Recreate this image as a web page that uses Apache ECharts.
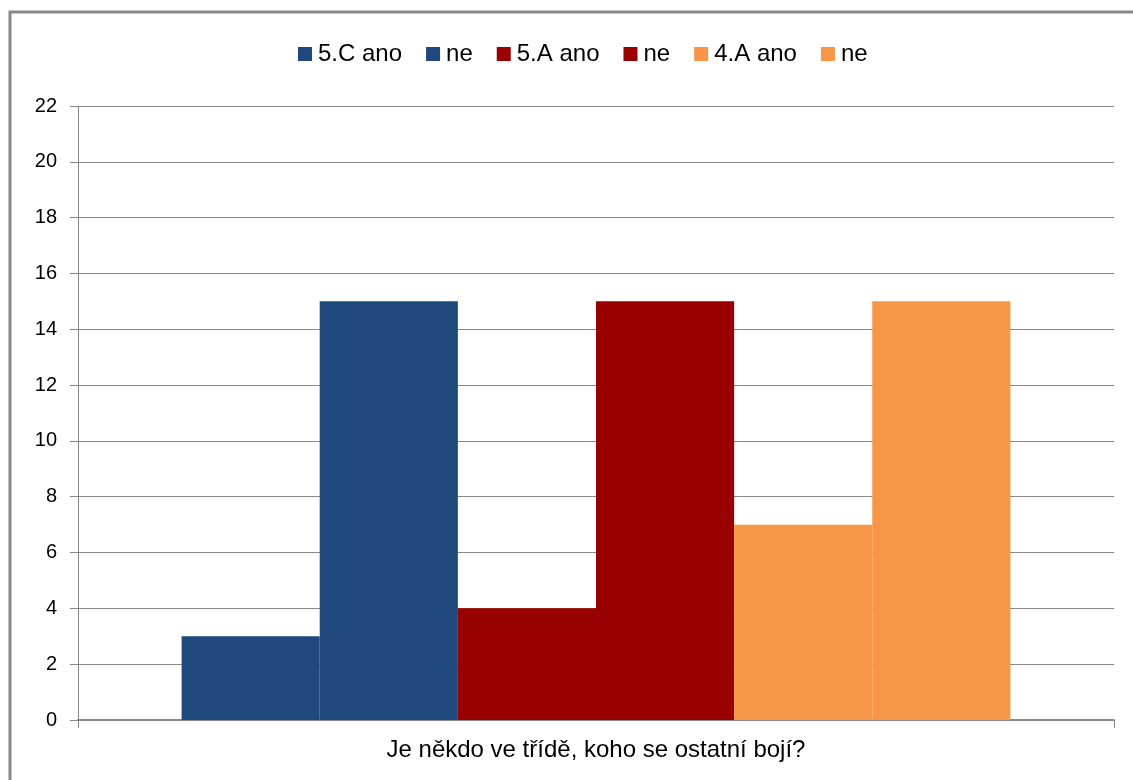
<!DOCTYPE html>
<html>
<head>
<meta charset="utf-8">
<script src="https://cdn.jsdelivr.net/npm/echarts@6/dist/echarts.min.js"></script>
<style>
  html, body { margin: 0; padding: 0; background: #fff; }
  #chart { width: 1133px; height: 780px; }
</style>
</head>
<body>
<div id="chart"></div>
<script>
// Single question, answers per class
const categories = ['Je někdo ve třídě, koho se ostatní bojí?'];
const seriesNames = ['5.C ano', 'ne', '5.A ano', 'ne', '4.A ano', 'ne'];
const seriesValues = [[3], [15], [4], [15], [7], [15]];
const seriesColors = ['#1F497D', '#1F497D', '#990000', '#990000', '#F79646', '#F79646'];

const FONT = 'Liberation Sans';
const chart = echarts.init(document.getElementById('chart'), null, { renderer: 'canvas' });

// duplicate names ("ne") need distinct legend keys
const legendNames = seriesNames.map((n, i) => n + '\u200b'.repeat(i));

chart.setOption({
  animation: false,
  backgroundColor: '#fff',
  graphic: [{
    type: 'rect',
    shape: { x: 10, y: 12, width: 1200, height: 900 },
    style: { fill: 'none', stroke: '#888', lineWidth: 3 },
    silent: true, z: -1
  }],
  legend: {
    top: 37,
    left: 293,
    itemWidth: 14,
    itemHeight: 14,
    itemGap: 24,
    icon: 'rect',
    textStyle: { fontFamily: FONT, fontSize: 24, color: '#000', padding: [0, 0, 0, 1] },
    data: legendNames
  },
  grid: { left: 78, right: 19, top: 106, bottom: 60, containLabel: false },
  xAxis: {
    type: 'category',
    data: categories,
    axisLine: { lineStyle: { color: '#888', width: 2 } },
    axisTick: { show: true, length: 8, lineStyle: { color: '#888' } },
    axisLabel: { fontFamily: FONT, fontSize: 24, color: '#000', margin: 18 }
  },
  yAxis: {
    type: 'value',
    min: 0, max: 22, interval: 2,
    axisLine: { show: true, lineStyle: { color: '#888' } },
    axisTick: { show: true, length: 8, lineStyle: { color: '#888' } },
    splitLine: { lineStyle: { color: '#888', width: 1 } },
    axisLabel: { fontFamily: FONT, fontSize: 20, color: '#000', margin: 21 }
  },
  series: seriesValues.map((vals, i) => ({
    name: legendNames[i],
    type: 'bar',
    data: vals,
    barGap: '0%',
    barCategoryGap: '20%',
    itemStyle: { color: seriesColors[i] }
  }))
});
</script>
</body>
</html>
